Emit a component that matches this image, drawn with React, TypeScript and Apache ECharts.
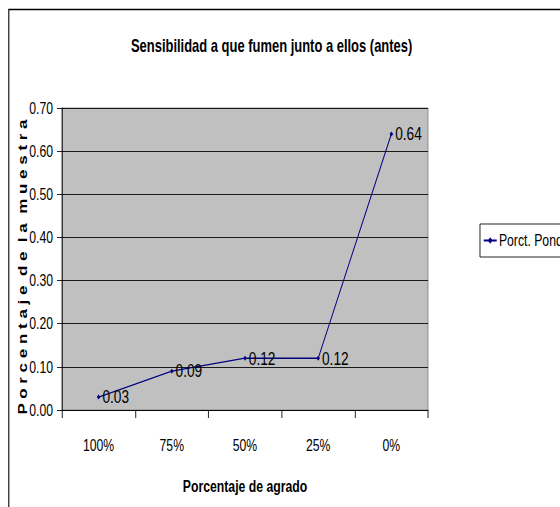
import React, { useEffect, useRef } from "react";
import * as echarts from "echarts";

const categories = ["100%", "75%", "50%", "25%", "0%"];
const seriesName = "Porct. Ponderado";
const values = [0.03, 0.09, 0.12, 0.12, 0.64];
const titleText = "Sensibilidad a que fumen junto a ellos (antes)";
const xAxisTitle = "Porcentaje de agrado";
const yAxisTitle = "Porcentaje de la muestra";

// The reference uses a condensed, tall face; we emulate it by drawing with
// Liberation Sans and compressing the whole chart horizontally.
const SX = 0.72;
const W = 560;
const H = 507;
const IW = W / SX;
const FONT = '"Liberation Sans", Arial, sans-serif';
const px = (v: number) => v / SX; // horizontal outer px -> inner px

function spaced(s: string): string {
  return s
    .split(" ")
    .map((w) => w.split("").join(" "))
    .join("  ");
}

export default function App() {
  const ref = useRef<HTMLDivElement>(null);
  useEffect(() => {
    if (!ref.current) return;
    const chart = echarts.init(ref.current, null, { renderer: "svg" });
    chart.setOption({
      animation: false,
      backgroundColor: "#ffffff",
      title: {
        text: titleText,
        left: px(268),
        top: 32,
        textAlign: "center",
        textStyle: { fontFamily: FONT, fontSize: 18, fontWeight: "bold", color: "#000" },
      },
      legend: {
        left: px(480),
        top: 224,
        orient: "vertical",
        padding: [8, 10, 8, px(3)],
        itemWidth: px(13),
        itemHeight: 8,
        itemGap: 0,
        borderColor: "#000",
        borderWidth: 1,
        backgroundColor: "#fff",
        borderRadius: 0,
        textStyle: { fontFamily: FONT, fontSize: 17, color: "#000", padding: [0, 0, 0, -2] },
        data: [seriesName],
      },
      grid: {
        left: px(62),
        top: 108,
        width: px(366),
        height: 302,
        show: true,
        backgroundColor: "#C0C0C0",
        borderColor: "#808080",
        borderWidth: 1,
        containLabel: false,
      },
      xAxis: {
        type: "category",
        data: categories,
        boundaryGap: true,
        name: xAxisTitle,
        nameLocation: "middle",
        nameGap: 68,
        nameTextStyle: { fontFamily: FONT, fontSize: 17, fontWeight: "bold", color: "#000" },
        axisLine: { show: true, lineStyle: { color: "#000", width: 1 } },
        axisTick: { show: true, length: 8, alignWithLabel: false, lineStyle: { color: "#000" } },
        axisLabel: { fontFamily: FONT, fontSize: 17, color: "#000", margin: 27 },
        splitLine: { show: false },
      },
      yAxis: {
        type: "value",
        min: 0,
        max: 0.7,
        interval: 0.1,
        axisLine: { show: true, lineStyle: { color: "#000", width: 1 } },
        axisTick: { show: true, length: px(5), lineStyle: { color: "#000" } },
        axisLabel: {
          fontFamily: FONT,
          fontSize: 17,
          color: "#000",
          margin: px(9),
          formatter: (v: number) => v.toFixed(2),
        },
        splitLine: { show: true, lineStyle: { color: "#000", width: 1 } },
      },
      graphic: [
        {
          type: "rect",
          left: px(7),
          top: 7,
          shape: { x: 0, y: 0, width: 900, height: 700 },
          style: { fill: "none", stroke: "#000", lineWidth: 1.5 },
          silent: true,
          z: 100,
        },
        {
          type: "text",
          x: px(23),
          y: 267,
          rotation: Math.PI / 2,
          style: {
            text: spaced(yAxisTitle),
            fontFamily: FONT,
            fontSize: 17,
            fontWeight: "bold",
            fill: "#000",
            align: "center",
            verticalAlign: "middle",
          },
          z: 100,
        },
      ],
      series: [
        {
          name: seriesName,
          type: "line",
          data: values,
          symbol: "diamond",
          symbolSize: 5,
          lineStyle: { color: "#000080", width: 1.3 },
          itemStyle: { color: "#000080" },
          label: {
            show: true,
            position: "right",
            distance: px(2),
            fontFamily: FONT,
            fontSize: 19,
            color: "#000",
            formatter: (p: any) => Number(p.value).toFixed(2),
          },
        },
      ],
    });
    return () => chart.dispose();
  }, []);
  return (
    <div style={{ position: "absolute", left: 0, top: 0, width: W, height: H, overflow: "hidden" }}>
      <div
        ref={ref}
        style={{
          width: IW,
          height: H,
          transform: `scaleX(${SX})`,
          transformOrigin: "0 0",
        }}
      />
    </div>
  );
}
